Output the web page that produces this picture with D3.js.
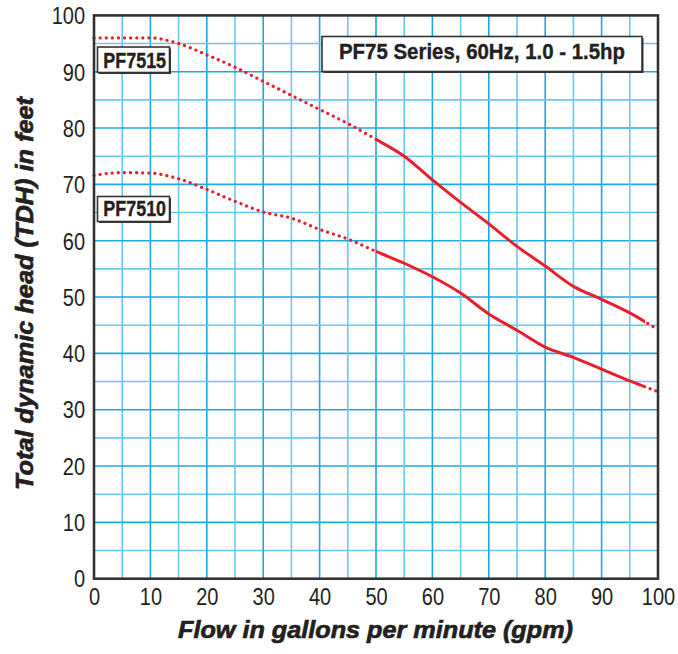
<!DOCTYPE html>
<html><head><meta charset="utf-8">
<script src="https://cdn.jsdelivr.net/npm/d3@7"></script>
<style>body{margin:0;background:#fff}svg{display:block}</style>
</head><body>
<svg id="c" width="678" height="654"></svg>
<script>
const flow = [0,5,10,15,20,25,30,35,40,45,50,55,60,65,70,75,80,85,90,95,100];
const pf7515 = [96,96,96,95,93,90.8,88.3,85.8,83.3,80.8,78,75,70.8,66.8,63,59,55.5,51.9,49.6,47.2,44.2];
const pf7510 = [71.6,72.1,72,71,69.1,67,65.1,64,62,60.3,58.1,56,53.6,50.7,47,44.1,41.1,39.3,37.2,35.1,33.2];
const xTicks = [0,10,20,30,40,50,60,70,80,90,100];
const yTicks = [0,10,20,30,40,50,60,70,80,90,100];
const solidRange = [50, 97.7];
const seriesNames = ["PF7515","PF7510"];
const title = "PF75 Series, 60Hz, 1.0 - 1.5hp";
const xTitle = "Flow in gallons per minute (gpm)";
const yTitle = "Total dynamic head (TDH) in feet";

const W = 678, H = 654;
const m = {l:94, r:20, t:15.4, b:75.3};
const svg = d3.select("#c");
const x = d3.scaleLinear().domain([0,100]).range([m.l, W-m.r]);
const y = d3.scaleLinear().domain([0,100]).range([H-m.b, m.t]);
const font = "'Liberation Sans',Arial,sans-serif";
const ink = "#231f20";

// grid
const g = svg.append("g");
d3.range(5,100,5).forEach(v=>{
  const major = v%10===0;
  g.append("line").attr("x1",x(v)).attr("x2",x(v)).attr("y1",y(0)).attr("y2",y(100))
    .attr("stroke", major?"#1ea7e0":"#6cc8ef").attr("stroke-width",1.6);
  g.append("line").attr("x1",x(0)).attr("x2",x(100)).attr("y1",y(v)).attr("y2",y(v))
    .attr("stroke", major?"#1ea7e0":"#6cc8ef").attr("stroke-width",1.6);
});

// clip paths
const defs = svg.append("defs");
defs.append("clipPath").attr("id","solidClip").append("rect")
  .attr("x",x(solidRange[0])).attr("y",0).attr("width",x(solidRange[1])-x(solidRange[0])).attr("height",H);
const dc = defs.append("clipPath").attr("id","dotClip");
dc.append("rect").attr("x",0).attr("y",0).attr("width",x(solidRange[0])).attr("height",H);
dc.append("rect").attr("x",x(solidRange[1])).attr("y",0).attr("width",W-x(solidRange[1])).attr("height",H);

const line = d3.line().x((d,i)=>x(flow[i])).y(d=>y(d)).curve(d3.curveMonotoneX);
[pf7515, pf7510].forEach(s=>{
  svg.append("path").attr("d",line(s)).attr("fill","none").attr("stroke","#e8202a")
    .attr("stroke-width",3.2).attr("stroke-dasharray","0.1 6").attr("stroke-linecap","round")
    .attr("clip-path","url(#dotClip)");
  svg.append("path").attr("d",line(s)).attr("fill","none").attr("stroke","#e8202a")
    .attr("stroke-width",3).attr("clip-path","url(#solidClip)");
});

// frame
svg.append("rect").attr("x",x(0)).attr("y",y(100)).attr("width",x(100)-x(0)).attr("height",y(0)-y(100))
  .attr("fill","none").attr("stroke","#333").attr("stroke-width",2.6);

// axes
const xa = svg.append("g").attr("transform",`translate(0,${y(0)})`)
  .call(d3.axisBottom(x).tickValues(xTicks).tickSize(0));
xa.select(".domain").remove();
xa.selectAll("text").attr("font-family",font).attr("font-size",23).attr("fill",ink)
  .attr("y",26).attr("dy",0).attr("transform","scale(0.87,1)");
const ya = svg.append("g").attr("transform",`translate(${x(0)},0)`)
  .call(d3.axisLeft(y).tickValues(yTicks).tickSize(0));
ya.select(".domain").remove();
ya.selectAll("text").attr("font-family",font).attr("font-size",23).attr("fill",ink)
  .attr("x",-10.3).attr("dy","0.36em").attr("transform","scale(0.87,1)");

// axis titles
svg.append("text").attr("x",375.5).attr("y",637.5).attr("text-anchor","middle")
  .attr("font-family",font).attr("font-weight","bold").attr("font-style","italic")
  .attr("font-size",24.5).attr("textLength",395).attr("lengthAdjust","spacingAndGlyphs")
  .attr("fill",ink).attr("stroke",ink).attr("stroke-width",0.7).text(xTitle);
svg.append("text").attr("transform","translate(32.5,293.5) rotate(-90)").attr("text-anchor","middle")
  .attr("font-family",font).attr("font-weight","bold").attr("font-style","italic")
  .attr("font-size",24.5).attr("textLength",393).attr("lengthAdjust","spacingAndGlyphs")
  .attr("fill",ink).attr("stroke",ink).attr("stroke-width",0.7).text(yTitle);

// label boxes
function box(x0,y0,w,h,txt,fs,tx,base,tl){
  svg.append("rect").attr("x",x0+1.5).attr("y",y0+1.5).attr("width",w).attr("height",h).attr("fill","#333");
  svg.append("rect").attr("x",x0).attr("y",y0).attr("width",w).attr("height",h).attr("fill","#fff")
    .attr("stroke","#333").attr("stroke-width",1.6);
  svg.append("text").attr("x",tx).attr("y",base).attr("text-anchor","middle")
    .attr("font-family",font).attr("font-weight","bold").attr("font-size",fs)
    .attr("textLength",tl).attr("lengthAdjust","spacingAndGlyphs")
    .attr("fill",ink).attr("stroke",ink).attr("stroke-width",0.4).text(txt);
}
box(97.5,47,72,25.5,seriesNames[0],22.5,134.7,68.3,62.7);
box(97.5,196.5,72,25,seriesNames[1],22.5,134.7,216,62.7);
box(322,36.5,320,35,title,22.5,482,59.3,286);
</script>
</body></html>
